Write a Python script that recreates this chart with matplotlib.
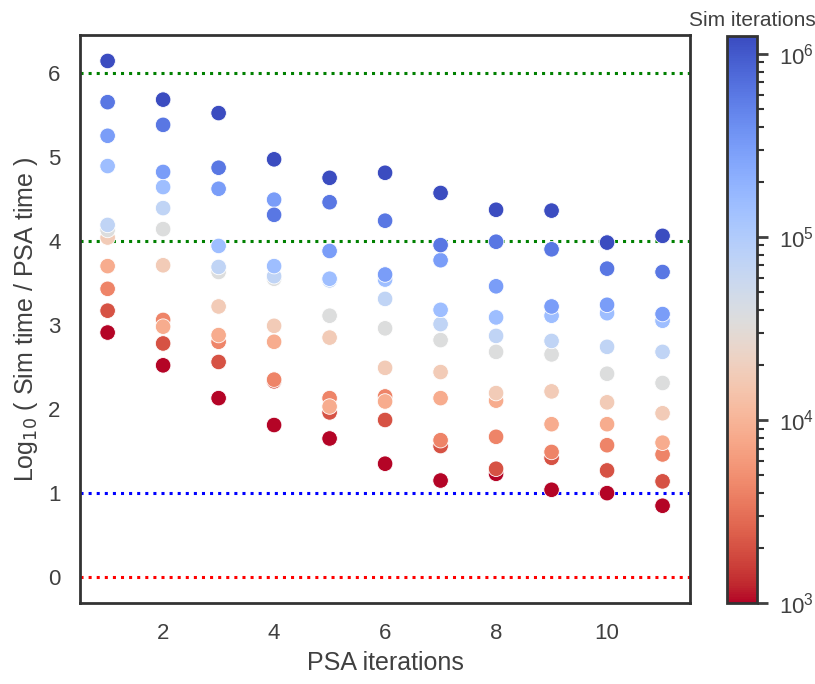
import matplotlib
matplotlib.use('Agg')
import matplotlib.pyplot as plt
from matplotlib.colors import LogNorm

plt.rcParams['font.family'] = ['Liberation Sans', 'DejaVu Sans']

# Data
psa_iters = [1, 2, 3, 4, 5, 6, 7, 8, 9, 10, 11]
sim_iters = [1000, 2040, 4180, 8540, 17500, 35400, 72500, 148000, 302000, 618000, 1250000]

# log10(sim time / PSA time), one list per number of sim iterations
ratio_1k = [2.91, 2.52, 2.13, 1.81, 1.65, 1.35, 1.15, 1.23, 1.04, 1.00, 0.85]
ratio_2k = [3.17, 2.78, 2.56, 2.33, 1.96, 1.87, 1.56, 1.29, 1.42, 1.27, 1.14]
ratio_4k = [3.43, 3.06, 2.80, 2.35, 2.13, 2.15, 1.63, 1.67, 1.49, 1.57, 1.46]
ratio_8k = [3.70, 2.98, 2.88, 2.80, 2.03, 2.09, 2.13, 2.10, 1.82, 1.82, 1.60]
ratio_17k = [4.04, 3.71, 3.22, 2.99, 2.85, 2.49, 2.44, 2.19, 2.21, 2.08, 1.95]
ratio_35k = [4.13, 4.14, 3.63, 3.55, 3.11, 2.96, 2.82, 2.68, 2.65, 2.42, 2.31]
ratio_72k = [4.19, 4.39, 3.69, 3.58, 3.53, 3.31, 3.01, 2.87, 2.81, 2.74, 2.68]
ratio_148k = [4.89, 4.64, 3.94, 3.70, 3.55, 3.54, 3.18, 3.09, 3.11, 3.14, 3.05]
ratio_302k = [5.25, 4.82, 4.62, 4.49, 3.88, 3.60, 3.77, 3.46, 3.22, 3.24, 3.13]
ratio_618k = [5.65, 5.38, 4.87, 4.31, 4.46, 4.24, 3.95, 3.99, 3.90, 3.67, 3.63]
ratio_1250k = [6.14, 5.68, 5.52, 4.97, 4.75, 4.81, 4.57, 4.37, 4.36, 3.98, 4.06]

ratios = [ratio_1k, ratio_2k, ratio_4k, ratio_8k, ratio_17k, ratio_35k,
          ratio_72k, ratio_148k, ratio_302k, ratio_618k, ratio_1250k]

fig = plt.figure(figsize=(8.15, 6.84), dpi=100)
ax = fig.add_axes([0.098, 0.118, 0.749, 0.831])
cax = fig.add_axes([0.892, 0.118, 0.037, 0.829])

norm = LogNorm(vmin=min(sim_iters), vmax=max(sim_iters))

for n, r in zip(sim_iters, ratios):
    sc = ax.scatter(psa_iters, r, c=[n] * len(psa_iters), cmap='coolwarm_r', norm=norm,
                    s=125, edgecolors='white', linewidths=0.6, zorder=3)

# reference levels
ax.axhline(6, color='green', linestyle=':', linewidth=2.2, zorder=2)
ax.axhline(4, color='green', linestyle=':', linewidth=2.2, zorder=2)
ax.axhline(1, color='blue', linestyle=':', linewidth=2.2, zorder=2)
ax.axhline(0, color='red', linestyle=':', linewidth=2.2, zorder=2)

ax.set_xlim(0.5, 11.5)
ax.set_ylim(-0.31, 6.45)
ax.set_xticks([2, 4, 6, 8, 10])
ax.set_yticks([0, 1, 2, 3, 4, 5, 6])
ax.tick_params(length=0, labelsize=16, colors='#404040', pad=14)
ax.set_xlabel('PSA iterations', fontsize=18, color='#404040', labelpad=5)
ax.set_ylabel(r'Log$_{10}$ ( Sim time / PSA time )', fontsize=18, color='#404040', labelpad=6)
for sp in ax.spines.values():
    sp.set_linewidth(2)
    sp.set_color('#333333')

cb = fig.colorbar(sc, cax=cax)
cb.outline.set_linewidth(2)
cb.outline.set_edgecolor('#333333')
cax.tick_params(which='major', length=8, width=2, labelsize=16, colors='#404040', pad=8)
cax.tick_params(which='minor', length=5, width=1.5, color='#333333')
fig.text(0.923, 0.962, 'Sim iterations', fontsize=15, color='#404040',
         ha='center', va='baseline')

fig.savefig('out.png', dpi=100)
